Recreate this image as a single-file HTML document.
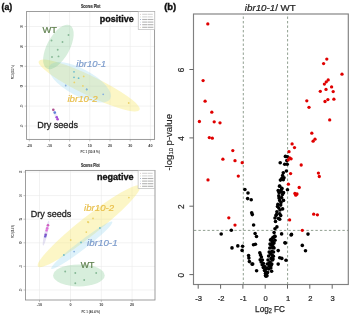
<!DOCTYPE html>
<html><head><meta charset="utf-8"><style>
html,body{margin:0;padding:0;background:#fff;width:350px;height:317px;overflow:hidden}
svg{position:absolute;left:0;top:0;font-family:"Liberation Sans", sans-serif;filter:blur(0.3px)}
</style></head><body>
<svg width="350" height="317" viewBox="0 0 350 317">
<text x="1.6" y="9.9" font-size="9.2" fill="#111" font-weight="bold" textLength="10.7" lengthAdjust="spacingAndGlyphs" stroke="#111" stroke-width="0.4" >(a)</text>
<text x="164.2" y="10.4" font-size="9.2" fill="#111" font-weight="bold" textLength="12.0" lengthAdjust="spacingAndGlyphs" stroke="#111" stroke-width="0.4" >(b)</text>
<g stroke="#e9e9e9" stroke-width="0.6"><line x1="29.3" y1="11.5" x2="29.3" y2="139.4"/><line x1="49.5" y1="11.5" x2="49.5" y2="139.4"/><line x1="69.6" y1="11.5" x2="69.6" y2="139.4"/><line x1="89.8" y1="11.5" x2="89.8" y2="139.4"/><line x1="110.0" y1="11.5" x2="110.0" y2="139.4"/><line x1="130.2" y1="11.5" x2="130.2" y2="139.4"/><line x1="150.4" y1="11.5" x2="150.4" y2="139.4"/><line x1="26.6" y1="26.5" x2="154.6" y2="26.5"/><line x1="26.6" y1="46.4" x2="154.6" y2="46.4"/><line x1="26.6" y1="66.3" x2="154.6" y2="66.3"/><line x1="26.6" y1="86.2" x2="154.6" y2="86.2"/><line x1="26.6" y1="106.1" x2="154.6" y2="106.1"/><line x1="26.6" y1="126.0" x2="154.6" y2="126.0"/></g>
<ellipse cx="89.2" cy="85.5" rx="56" ry="9.8" transform="rotate(25.8 89.2 85.5)" fill="rgba(246,229,97,0.36)"/>
<ellipse cx="79.8" cy="82.3" rx="34.6" ry="13.5" transform="rotate(28.2 79.8 82.3)" fill="rgba(145,212,238,0.30)"/>
<ellipse cx="58.4" cy="46.9" rx="24.5" ry="11.3" transform="rotate(-61.7 58.4 46.9)" fill="rgba(122,198,138,0.30)"/>
<ellipse cx="55.5" cy="114.6" rx="6.5" ry="1.4" transform="rotate(63 55.5 114.6)" fill="rgba(170,160,215,0.25)"/>
<g fill="#86b896"><circle cx="68.5" cy="35.0" r="0.95"/><circle cx="51.5" cy="40.5" r="0.95"/><circle cx="62.5" cy="42.0" r="0.95"/><circle cx="57.7" cy="49.7" r="0.95"/><circle cx="52.0" cy="57.0" r="0.95"/><circle cx="58.5" cy="56.4" r="0.95"/></g>
<g fill="#6cbccc"><circle cx="74.0" cy="71.8" r="0.9"/><circle cx="74.0" cy="77.3" r="0.9"/><circle cx="78.6" cy="78.2" r="0.9"/><circle cx="86.7" cy="89.5" r="0.9"/></g>
<g fill="#86aee0"><circle cx="65.7" cy="85.5" r="0.9"/><circle cx="86.7" cy="89.3" r="0.9"/><circle cx="103.2" cy="94.3" r="0.9"/></g>
<g fill="#ecd36a"><circle cx="83.7" cy="76.4" r="0.9"/><circle cx="74.3" cy="82.4" r="0.9"/><circle cx="82.9" cy="85.9" r="0.9"/><circle cx="128.7" cy="103.0" r="0.9"/></g>
<circle cx="53.3" cy="109.8" r="1.3" fill="#b05090"/><circle cx="54.8" cy="112.6" r="1.3" fill="#6080d8"/><circle cx="56.7" cy="117.3" r="1.3" fill="#a050d8"/><circle cx="57.6" cy="119.3" r="1.3" fill="#b048d0"/>
<rect x="26.6" y="11.5" width="128.0" height="127.9" fill="none" stroke="#8c8c8c" stroke-width="0.85"/>
<rect x="138.2" y="11.4" width="16.6" height="18.2" fill="#fff" stroke="#b0b0b0" stroke-width="0.6"/><circle cx="140.6" cy="14.3" r="0.45" fill="#c0a0a0"/><rect x="142.2" y="13.75" width="5.2" height="1.1" fill="#d4d4d4"/><rect x="147.79999999999998" y="13.75" width="5.0" height="1.1" fill="#d4d4d4"/><circle cx="140.6" cy="16.900000000000002" r="0.45" fill="#a8c0a0"/><rect x="142.2" y="16.35" width="5.2" height="1.1" fill="#d4d4d4"/><rect x="147.79999999999998" y="16.35" width="5.0" height="1.1" fill="#d4d4d4"/><circle cx="140.6" cy="19.5" r="0.45" fill="#5070a8"/><rect x="142.2" y="18.95" width="5.2" height="1.1" fill="#b4b4b4"/><rect x="147.79999999999998" y="18.95" width="5.6" height="1.1" fill="#b4b4b4"/><circle cx="140.6" cy="22.1" r="0.45" fill="#a0b8d0"/><rect x="142.2" y="21.55" width="5.2" height="1.1" fill="#b4b4b4"/><rect x="147.79999999999998" y="21.55" width="5.6" height="1.1" fill="#b4b4b4"/><circle cx="140.6" cy="24.700000000000003" r="0.45" fill="#8070a0"/><rect x="142.2" y="24.150000000000002" width="5.2" height="1.1" fill="#b4b4b4"/><rect x="147.79999999999998" y="24.150000000000002" width="5.6" height="1.1" fill="#b4b4b4"/><circle cx="140.6" cy="27.3" r="0.45" fill="#d0c090"/><rect x="142.2" y="26.75" width="5.2" height="1.1" fill="#b4b4b4"/><rect x="147.79999999999998" y="26.75" width="5.6" height="1.1" fill="#b4b4b4"/>
<text x="80.9" y="7.8" font-size="4.7" fill="#333" font-weight="bold" textLength="19.5" lengthAdjust="spacingAndGlyphs" stroke="#333" stroke-width="0.2" >Scores Plot</text>
<text x="99.7" y="21.6" font-size="9.0" fill="#111" font-weight="bold" textLength="34.0" lengthAdjust="spacingAndGlyphs" stroke="#111" stroke-width="0.35" >positive</text>
<text x="42.4" y="32.7" font-size="9.2" fill="#5d7f4c" textLength="14.5" lengthAdjust="spacingAndGlyphs" stroke="#5d7f4c" stroke-width="0.2" >WT</text>
<text x="76.3" y="67.0" font-size="9.3" fill="#7d9ccc" font-style="italic" textLength="29.7" lengthAdjust="spacingAndGlyphs" stroke="#7d9ccc" stroke-width="0.2" >ibr10-1</text>
<text x="67.4" y="101.5" font-size="9.3" fill="#e8bf4c" font-style="italic" textLength="30.3" lengthAdjust="spacingAndGlyphs" stroke="#e8bf4c" stroke-width="0.2" >ibr10-2</text>
<text x="37.2" y="128.3" font-size="9.8" fill="#222" textLength="40.8" lengthAdjust="spacingAndGlyphs" stroke="#222" stroke-width="0.3" >Dry seeds</text>
<g stroke="#8a8a8a" stroke-width="0.5"><line x1="29.3" y1="139.4" x2="29.3" y2="141.4"/><line x1="49.5" y1="139.4" x2="49.5" y2="141.4"/><line x1="69.6" y1="139.4" x2="69.6" y2="141.4"/><line x1="89.8" y1="139.4" x2="89.8" y2="141.4"/><line x1="110.0" y1="139.4" x2="110.0" y2="141.4"/><line x1="130.2" y1="139.4" x2="130.2" y2="141.4"/><line x1="150.4" y1="139.4" x2="150.4" y2="141.4"/><line x1="24.6" y1="26.5" x2="26.6" y2="26.5"/><line x1="24.6" y1="46.4" x2="26.6" y2="46.4"/><line x1="24.6" y1="66.3" x2="26.6" y2="66.3"/><line x1="24.6" y1="86.2" x2="26.6" y2="86.2"/><line x1="24.6" y1="106.1" x2="26.6" y2="106.1"/><line x1="24.6" y1="126.0" x2="26.6" y2="126.0"/></g>
<g font-size="3.7" fill="#3a3a3a" font-weight="bold" text-anchor="middle"><text x="29.3" y="146.8">-20</text><text x="49.5" y="146.8">-10</text><text x="69.6" y="146.8">0</text><text x="89.8" y="146.8">10</text><text x="110.0" y="146.8">20</text><text x="130.2" y="146.8">30</text><text x="150.4" y="146.8">40</text><text transform="translate(23.3,26.5) rotate(-90)" textLength="2.6" lengthAdjust="spacingAndGlyphs">30</text><text transform="translate(23.3,46.4) rotate(-90)" textLength="2.6" lengthAdjust="spacingAndGlyphs">20</text><text transform="translate(23.3,66.3) rotate(-90)" textLength="2.6" lengthAdjust="spacingAndGlyphs">10</text><text transform="translate(23.3,86.2) rotate(-90)" textLength="2.6" lengthAdjust="spacingAndGlyphs">0</text><text transform="translate(23.3,106.1) rotate(-90)" textLength="2.6" lengthAdjust="spacingAndGlyphs">-10</text><text transform="translate(23.3,126.0) rotate(-90)" textLength="2.6" lengthAdjust="spacingAndGlyphs">-20</text><text x="90.1" y="152.6" textLength="19.3" lengthAdjust="spacingAndGlyphs">PC 1 (50.8 %)</text><text transform="translate(14.2,72.2) rotate(-90)" textLength="14" lengthAdjust="spacingAndGlyphs">PC 2 (18.2 %)</text></g>
<g stroke="#e9e9e9" stroke-width="0.6"><line x1="39.5" y1="170.4" x2="39.5" y2="300.0"/><line x1="70.5" y1="170.4" x2="70.5" y2="300.0"/><line x1="101.3" y1="170.4" x2="101.3" y2="300.0"/><line x1="132.1" y1="170.4" x2="132.1" y2="300.0"/><line x1="25.5" y1="172.0" x2="155.0" y2="172.0"/><line x1="25.5" y1="195.6" x2="155.0" y2="195.6"/><line x1="25.5" y1="219.2" x2="155.0" y2="219.2"/><line x1="25.5" y1="242.8" x2="155.0" y2="242.8"/><line x1="25.5" y1="266.4" x2="155.0" y2="266.4"/><line x1="25.5" y1="290.0" x2="155.0" y2="290.0"/></g>
<ellipse cx="89.0" cy="226.2" rx="65" ry="9.4" transform="rotate(-38.3 89.0 226.2)" fill="rgba(246,229,97,0.36)"/>
<ellipse cx="81.8" cy="245.3" rx="38.5" ry="4.3" transform="rotate(-37.5 81.8 245.3)" fill="rgba(145,212,238,0.30)"/>
<ellipse cx="78.9" cy="275.4" rx="25.8" ry="11" fill="rgba(122,198,138,0.30)"/>
<ellipse cx="46.0" cy="233.2" rx="12.8" ry="1.6" transform="rotate(-77 46.0 233.2)" fill="rgba(170,160,215,0.3)"/>
<g fill="#86b896"><circle cx="65.2" cy="271.5" r="0.95"/><circle cx="75.3" cy="273.0" r="0.95"/><circle cx="75.3" cy="283.2" r="0.95"/><circle cx="84.2" cy="280.0" r="0.95"/><circle cx="96.2" cy="273.0" r="0.95"/></g>
<g fill="#6cbccc"><circle cx="63.9" cy="255.0" r="0.9"/><circle cx="81.0" cy="242.4" r="0.9"/><circle cx="99.9" cy="228.0" r="0.9"/></g>
<g fill="#86aee0"><circle cx="74.1" cy="251.6" r="0.9"/></g>
<g fill="#ecd36a"><circle cx="70.7" cy="240.0" r="0.9"/><circle cx="87.9" cy="221.9" r="0.9"/><circle cx="86.3" cy="232.1" r="0.9"/><circle cx="128.9" cy="197.6" r="0.9"/><circle cx="93.0" cy="218.4" r="0.9"/><circle cx="88.4" cy="222.3" r="0.9"/></g>
<circle cx="48.0" cy="225.3" r="1.3" fill="#d060c0"/><circle cx="47.2" cy="228.4" r="1.3" fill="#e070d8"/><circle cx="46.6" cy="230.4" r="1.2" fill="#e070d8"/><circle cx="45.7" cy="234.8" r="1.3" fill="#8050c8"/><circle cx="45.2" cy="236.4" r="1.2" fill="#7060d0"/>
<rect x="25.5" y="170.4" width="129.5" height="129.6" fill="none" stroke="#8c8c8c" stroke-width="0.85"/>
<rect x="138.1" y="170.4" width="16.6" height="18.2" fill="#fff" stroke="#b0b0b0" stroke-width="0.6"/><circle cx="140.5" cy="173.3" r="0.45" fill="#c0a0a0"/><rect x="142.1" y="172.75" width="5.2" height="1.1" fill="#d4d4d4"/><rect x="147.7" y="172.75" width="5.0" height="1.1" fill="#d4d4d4"/><circle cx="140.5" cy="175.9" r="0.45" fill="#a8c0a0"/><rect x="142.1" y="175.35" width="5.2" height="1.1" fill="#d4d4d4"/><rect x="147.7" y="175.35" width="5.0" height="1.1" fill="#d4d4d4"/><circle cx="140.5" cy="178.5" r="0.45" fill="#5070a8"/><rect x="142.1" y="177.95" width="5.2" height="1.1" fill="#b4b4b4"/><rect x="147.7" y="177.95" width="5.6" height="1.1" fill="#b4b4b4"/><circle cx="140.5" cy="181.10000000000002" r="0.45" fill="#a0b8d0"/><rect x="142.1" y="180.55" width="5.2" height="1.1" fill="#b4b4b4"/><rect x="147.7" y="180.55" width="5.6" height="1.1" fill="#b4b4b4"/><circle cx="140.5" cy="183.70000000000002" r="0.45" fill="#8070a0"/><rect x="142.1" y="183.15" width="5.2" height="1.1" fill="#b4b4b4"/><rect x="147.7" y="183.15" width="5.6" height="1.1" fill="#b4b4b4"/><circle cx="140.5" cy="186.3" r="0.45" fill="#d0c090"/><rect x="142.1" y="185.75" width="5.2" height="1.1" fill="#b4b4b4"/><rect x="147.7" y="185.75" width="5.6" height="1.1" fill="#b4b4b4"/>
<text x="80.9" y="167.3" font-size="4.7" fill="#333" font-weight="bold" textLength="18.8" lengthAdjust="spacingAndGlyphs" stroke="#333" stroke-width="0.2" >Scores Plot</text>
<text x="96.9" y="180.0" font-size="9.0" fill="#111" font-weight="bold" textLength="36.7" lengthAdjust="spacingAndGlyphs" stroke="#111" stroke-width="0.35" >negative</text>
<text x="80.7" y="267.6" font-size="9.2" fill="#5d7f4c" textLength="13.8" lengthAdjust="spacingAndGlyphs" stroke="#5d7f4c" stroke-width="0.2" >WT</text>
<text x="87.1" y="245.7" font-size="9.3" fill="#7d9ccc" font-style="italic" textLength="30.5" lengthAdjust="spacingAndGlyphs" stroke="#7d9ccc" stroke-width="0.2" >ibr10-1</text>
<text x="84.1" y="210.9" font-size="9.3" fill="#e8bf4c" font-style="italic" textLength="30.0" lengthAdjust="spacingAndGlyphs" stroke="#e8bf4c" stroke-width="0.2" >ibr10-2</text>
<text x="30.7" y="216.8" font-size="9.8" fill="#222" textLength="40.6" lengthAdjust="spacingAndGlyphs" stroke="#222" stroke-width="0.3" >Dry seeds</text>
<g stroke="#8a8a8a" stroke-width="0.5"><line x1="39.5" y1="300.0" x2="39.5" y2="302.0"/><line x1="70.5" y1="300.0" x2="70.5" y2="302.0"/><line x1="101.3" y1="300.0" x2="101.3" y2="302.0"/><line x1="132.1" y1="300.0" x2="132.1" y2="302.0"/><line x1="23.5" y1="172.0" x2="25.5" y2="172.0"/><line x1="23.5" y1="195.6" x2="25.5" y2="195.6"/><line x1="23.5" y1="219.2" x2="25.5" y2="219.2"/><line x1="23.5" y1="242.8" x2="25.5" y2="242.8"/><line x1="23.5" y1="266.4" x2="25.5" y2="266.4"/><line x1="23.5" y1="290.0" x2="25.5" y2="290.0"/></g>
<g font-size="3.7" fill="#3a3a3a" font-weight="bold" text-anchor="middle"><text x="39.5" y="306.3">-10</text><text x="70.5" y="306.3">0</text><text x="101.3" y="306.3">10</text><text x="132.1" y="306.3">20</text><text transform="translate(22.0,172.0) rotate(-90)" textLength="2.6" lengthAdjust="spacingAndGlyphs">15</text><text transform="translate(22.0,195.6) rotate(-90)" textLength="2.6" lengthAdjust="spacingAndGlyphs">10</text><text transform="translate(22.0,219.2) rotate(-90)" textLength="2.6" lengthAdjust="spacingAndGlyphs">5</text><text transform="translate(22.0,242.8) rotate(-90)" textLength="2.6" lengthAdjust="spacingAndGlyphs">0</text><text transform="translate(22.0,266.4) rotate(-90)" textLength="2.6" lengthAdjust="spacingAndGlyphs">-5</text><text transform="translate(22.0,290.0) rotate(-90)" textLength="2.6" lengthAdjust="spacingAndGlyphs">-10</text><text x="90.7" y="313.3" textLength="18.6" lengthAdjust="spacingAndGlyphs">PC 1 (46.4 %)</text><text transform="translate(13.7,231.5) rotate(-90)" textLength="13" lengthAdjust="spacingAndGlyphs">PC 2 (18.4 %)</text></g>
<text x="244.8" y="10.5" font-size="8.3" fill="#222" stroke="#222" stroke-width="0.2" textLength="51.0" lengthAdjust="spacingAndGlyphs"><tspan font-style="italic">ibr10-1</tspan>/ WT</text>
<g stroke="#8a9a8a" stroke-width="0.95" stroke-dasharray="2.4 2.1"><line x1="243.3" y1="14.0" x2="243.3" y2="284.5" stroke-dashoffset="2.0"/><line x1="287.6" y1="14.0" x2="287.6" y2="284.5" stroke-dashoffset="2.0"/><line x1="193.5" y1="230.4" x2="348.3" y2="230.4" stroke-dashoffset="4.1"/></g>
<g fill="#000"><circle cx="244.9" cy="189.5" r="1.8"/><circle cx="248.0" cy="193.0" r="1.8"/><circle cx="247.6" cy="198.6" r="1.8"/><circle cx="251.2" cy="199.7" r="1.8"/><circle cx="231.3" cy="230.3" r="1.8"/><circle cx="221.2" cy="234.0" r="1.8"/><circle cx="232.0" cy="247.9" r="1.8"/><circle cx="237.8" cy="245.9" r="1.8"/><circle cx="242.6" cy="246.2" r="1.8"/><circle cx="242.1" cy="250.4" r="1.8"/><circle cx="248.6" cy="255.6" r="1.8"/><circle cx="248.9" cy="258.1" r="1.8"/><circle cx="249.4" cy="261.6" r="1.8"/><circle cx="252.0" cy="264.1" r="1.8"/><circle cx="253.5" cy="244.8" r="1.8"/><circle cx="255.4" cy="244.2" r="1.8"/><circle cx="256.6" cy="270.7" r="1.8"/><circle cx="251.7" cy="212.7" r="1.8"/><circle cx="252.3" cy="214.6" r="1.8"/><circle cx="253.6" cy="225.0" r="1.8"/><circle cx="255.1" cy="233.5" r="1.8"/><circle cx="256.5" cy="236.5" r="1.8"/><circle cx="252.7" cy="264.1" r="1.8"/><circle cx="285.4" cy="156.4" r="1.8"/><circle cx="287.5" cy="156.8" r="1.8"/><circle cx="286.8" cy="160.6" r="1.8"/><circle cx="284.7" cy="164.2" r="1.8"/><circle cx="287.2" cy="164.2" r="1.8"/><circle cx="280.2" cy="162.8" r="1.8"/><circle cx="286.4" cy="171.0" r="1.8"/><circle cx="283.3" cy="172.7" r="1.8"/><circle cx="282.6" cy="175.5" r="1.8"/><circle cx="281.9" cy="178.4" r="1.8"/><circle cx="280.4" cy="180.1" r="1.8"/><circle cx="283.3" cy="179.8" r="1.8"/><circle cx="284.0" cy="177.7" r="1.8"/><circle cx="279.7" cy="186.2" r="1.8"/><circle cx="281.9" cy="188.3" r="1.8"/><circle cx="280.4" cy="191.1" r="1.8"/><circle cx="283.3" cy="192.6" r="1.8"/><circle cx="287.5" cy="189.7" r="1.8"/><circle cx="279.0" cy="192.6" r="1.8"/><circle cx="280.7" cy="191.9" r="1.8"/><circle cx="283.5" cy="192.8" r="1.8"/><circle cx="278.8" cy="195.7" r="1.8"/><circle cx="281.6" cy="197.6" r="1.8"/><circle cx="279.7" cy="200.4" r="1.8"/><circle cx="283.5" cy="200.4" r="1.8"/><circle cx="277.9" cy="204.2" r="1.8"/><circle cx="280.7" cy="205.1" r="1.8"/><circle cx="278.8" cy="208.0" r="1.8"/><circle cx="282.6" cy="208.9" r="1.8"/><circle cx="276.9" cy="211.8" r="1.8"/><circle cx="279.7" cy="213.7" r="1.8"/><circle cx="276.0" cy="215.6" r="1.8"/><circle cx="280.7" cy="215.6" r="1.8"/><circle cx="275.0" cy="218.0" r="1.8"/><circle cx="279.7" cy="219.3" r="1.8"/><circle cx="276.9" cy="226.9" r="1.8"/><circle cx="275.0" cy="228.8" r="1.8"/><circle cx="274.1" cy="232.6" r="1.8"/><circle cx="275.0" cy="236.4" r="1.8"/><circle cx="273.1" cy="237.3" r="1.8"/><circle cx="271.2" cy="239.2" r="1.8"/><circle cx="275.0" cy="240.2" r="1.8"/><circle cx="272.2" cy="242.0" r="1.8"/><circle cx="271.2" cy="245.3" r="1.8"/><circle cx="273.1" cy="246.8" r="1.8"/><circle cx="281.6" cy="233.9" r="1.8"/><circle cx="291.1" cy="235.0" r="1.8"/><circle cx="285.4" cy="243.0" r="1.8"/><circle cx="259.8" cy="252.7" r="1.8"/><circle cx="260.5" cy="254.9" r="1.8"/><circle cx="260.2" cy="259.8" r="1.8"/><circle cx="261.2" cy="262.0" r="1.8"/><circle cx="262.2" cy="264.8" r="1.8"/><circle cx="263.3" cy="267.6" r="1.8"/><circle cx="264.5" cy="270.5" r="1.8"/><circle cx="265.5" cy="273.3" r="1.8"/><circle cx="266.2" cy="274.7" r="1.8"/><circle cx="267.6" cy="272.6" r="1.8"/><circle cx="268.7" cy="269.0" r="1.8"/><circle cx="269.3" cy="266.2" r="1.8"/><circle cx="270.2" cy="262.0" r="1.8"/><circle cx="271.1" cy="258.4" r="1.8"/><circle cx="271.9" cy="254.9" r="1.8"/><circle cx="271.9" cy="251.3" r="1.8"/><circle cx="272.6" cy="247.8" r="1.8"/><circle cx="272.6" cy="244.2" r="1.8"/><circle cx="272.6" cy="240.7" r="1.8"/><circle cx="273.3" cy="237.8" r="1.8"/><circle cx="274.7" cy="236.4" r="1.8"/><circle cx="270.4" cy="253.4" r="1.8"/><circle cx="273.3" cy="256.3" r="1.8"/><circle cx="269.0" cy="263.4" r="1.8"/><circle cx="271.1" cy="265.5" r="1.8"/><circle cx="273.0" cy="259.1" r="1.8"/><circle cx="284.9" cy="242.8" r="1.8"/><circle cx="278.2" cy="250.6" r="1.8"/><circle cx="279.7" cy="257.7" r="1.8"/><circle cx="281.8" cy="258.4" r="1.8"/><circle cx="286.0" cy="260.2" r="1.8"/><circle cx="278.2" cy="264.1" r="1.8"/><circle cx="271.6" cy="271.2" r="1.8"/><circle cx="291.5" cy="234.4" r="1.8"/><circle cx="308.0" cy="234.1" r="1.8"/><circle cx="302.3" cy="245.4" r="1.8"/><circle cx="305.5" cy="250.7" r="1.8"/><circle cx="261.4" cy="257.0" r="1.8"/><circle cx="262.4" cy="260.0" r="1.8"/><circle cx="263.4" cy="263.5" r="1.8"/><circle cx="264.5" cy="266.5" r="1.8"/><circle cx="265.5" cy="269.5" r="1.8"/><circle cx="266.5" cy="272.5" r="1.8"/><circle cx="270.5" cy="240.0" r="1.8"/><circle cx="270.0" cy="244.0" r="1.8"/><circle cx="269.8" cy="248.0" r="1.8"/><circle cx="269.2" cy="252.0" r="1.8"/><circle cx="268.6" cy="256.0" r="1.8"/><circle cx="268.0" cy="260.0" r="1.8"/><circle cx="267.3" cy="264.0" r="1.8"/><circle cx="266.8" cy="268.0" r="1.8"/><circle cx="274.0" cy="243.0" r="1.8"/><circle cx="274.0" cy="248.0" r="1.8"/><circle cx="273.5" cy="252.0" r="1.8"/><circle cx="273.0" cy="256.0" r="1.8"/><circle cx="272.5" cy="260.0" r="1.8"/><circle cx="271.8" cy="264.0" r="1.8"/><circle cx="270.8" cy="268.0" r="1.8"/><circle cx="265.5" cy="275.5" r="1.8"/><circle cx="267.0" cy="275.8" r="1.8"/><circle cx="266.0" cy="276.3" r="1.8"/><circle cx="279.5" cy="186.0" r="1.8"/><circle cx="281.5" cy="189.5" r="1.8"/><circle cx="278.2" cy="190.5" r="1.8"/><circle cx="282.5" cy="194.5" r="1.8"/><circle cx="279.0" cy="198.0" r="1.8"/><circle cx="281.0" cy="202.5" r="1.8"/><circle cx="277.5" cy="206.5" r="1.8"/><circle cx="280.0" cy="210.0" r="1.8"/><circle cx="276.5" cy="214.5" r="1.8"/><circle cx="278.5" cy="218.5" r="1.8"/><circle cx="275.5" cy="221.5" r="1.8"/></g>
<g fill="#e00000"><circle cx="207.8" cy="23.9" r="1.65"/><circle cx="203.1" cy="80.6" r="1.65"/><circle cx="205.1" cy="101.2" r="1.65"/><circle cx="211.8" cy="112.2" r="1.65"/><circle cx="199.4" cy="121.5" r="1.65"/><circle cx="214.2" cy="121.8" r="1.65"/><circle cx="220.0" cy="122.8" r="1.65"/><circle cx="209.3" cy="137.6" r="1.65"/><circle cx="212.3" cy="138.2" r="1.65"/><circle cx="232.8" cy="150.6" r="1.65"/><circle cx="222.9" cy="159.2" r="1.65"/><circle cx="235.0" cy="160.7" r="1.65"/><circle cx="242.2" cy="162.7" r="1.65"/><circle cx="238.3" cy="176.1" r="1.65"/><circle cx="208.0" cy="179.9" r="1.65"/><circle cx="228.8" cy="217.8" r="1.65"/><circle cx="235.0" cy="225.1" r="1.65"/><circle cx="326.8" cy="59.1" r="1.65"/><circle cx="323.6" cy="63.6" r="1.65"/><circle cx="342.0" cy="74.2" r="1.65"/><circle cx="328.2" cy="79.9" r="1.65"/><circle cx="326.3" cy="81.8" r="1.65"/><circle cx="324.4" cy="84.1" r="1.65"/><circle cx="331.6" cy="86.9" r="1.65"/><circle cx="326.0" cy="89.4" r="1.65"/><circle cx="333.2" cy="91.6" r="1.65"/><circle cx="320.3" cy="91.3" r="1.65"/><circle cx="306.8" cy="100.8" r="1.65"/><circle cx="309.0" cy="107.3" r="1.65"/><circle cx="325.0" cy="101.5" r="1.65"/><circle cx="327.9" cy="99.6" r="1.65"/><circle cx="333.9" cy="99.2" r="1.65"/><circle cx="329.7" cy="119.9" r="1.65"/><circle cx="311.8" cy="133.2" r="1.65"/><circle cx="315.0" cy="139.2" r="1.65"/><circle cx="313.1" cy="141.2" r="1.65"/><circle cx="292.1" cy="143.9" r="1.65"/><circle cx="294.5" cy="147.6" r="1.65"/><circle cx="289.0" cy="151.7" r="1.65"/><circle cx="289.7" cy="157.8" r="1.65"/><circle cx="291.1" cy="158.8" r="1.65"/><circle cx="288.2" cy="159.9" r="1.65"/><circle cx="301.2" cy="165.0" r="1.65"/><circle cx="290.6" cy="173.6" r="1.65"/><circle cx="318.4" cy="173.1" r="1.65"/><circle cx="319.3" cy="176.5" r="1.65"/><circle cx="288.4" cy="184.2" r="1.65"/><circle cx="299.2" cy="187.5" r="1.65"/><circle cx="294.9" cy="193.5" r="1.65"/><circle cx="297.0" cy="194.0" r="1.65"/><circle cx="295.8" cy="195.2" r="1.65"/><circle cx="313.7" cy="214.2" r="1.65"/><circle cx="317.4" cy="214.8" r="1.65"/><circle cx="289.6" cy="219.9" r="1.65"/><circle cx="302.3" cy="230.3" r="1.65"/></g>
<rect x="193.5" y="14.0" width="154.8" height="270.5" fill="none" stroke="#808080" stroke-width="1.15"/>
<g stroke="#666" stroke-width="1.0"><line x1="189.4" y1="274.6" x2="193.5" y2="274.6"/><line x1="189.4" y1="206.2" x2="193.5" y2="206.2"/><line x1="189.4" y1="137.9" x2="193.5" y2="137.9"/><line x1="189.4" y1="69.5" x2="193.5" y2="69.5"/><line x1="198.2" y1="284.5" x2="198.2" y2="288.7"/><line x1="220.6" y1="284.5" x2="220.6" y2="288.7"/><line x1="242.9" y1="284.5" x2="242.9" y2="288.7"/><line x1="265.2" y1="284.5" x2="265.2" y2="288.7"/><line x1="287.5" y1="284.5" x2="287.5" y2="288.7"/><line x1="309.8" y1="284.5" x2="309.8" y2="288.7"/><line x1="332.2" y1="284.5" x2="332.2" y2="288.7"/></g>
<g font-size="7.6" fill="#222" stroke="#222" stroke-width="0.2"><text text-anchor="middle" font-size="8.2" transform="translate(184.3,275.1) rotate(-90)">0</text><text text-anchor="middle" font-size="8.2" transform="translate(184.3,206.7) rotate(-90)">2</text><text text-anchor="middle" font-size="8.2" transform="translate(184.3,138.4) rotate(-90)">4</text><text text-anchor="middle" font-size="8.2" transform="translate(184.3,70.0) rotate(-90)">6</text><text text-anchor="middle" x="198.7" y="300.5">-3</text><text text-anchor="middle" x="221.1" y="300.5">-2</text><text text-anchor="middle" x="243.4" y="300.5">-1</text><text text-anchor="middle" x="265.7" y="300.5">0</text><text text-anchor="middle" x="288.0" y="300.5">1</text><text text-anchor="middle" x="310.3" y="300.5">2</text><text text-anchor="middle" x="332.7" y="300.5">3</text></g>
<text x="255.1" y="312.1" font-size="9.5" fill="#222" stroke="#222" stroke-width="0.25" textLength="29.8" lengthAdjust="spacingAndGlyphs">Log<tspan font-size="6.4" dy="1.3">2</tspan><tspan dy="-1.3"> FC</tspan></text>
<text transform="translate(171.6,170.6) rotate(-90)" font-size="9.2" fill="#222" stroke="#222" stroke-width="0.15" textLength="56.6" lengthAdjust="spacingAndGlyphs">-log<tspan font-size="5.6" dy="1">10</tspan><tspan dy="-1"> p-value</tspan></text>
</svg>
</body></html>
